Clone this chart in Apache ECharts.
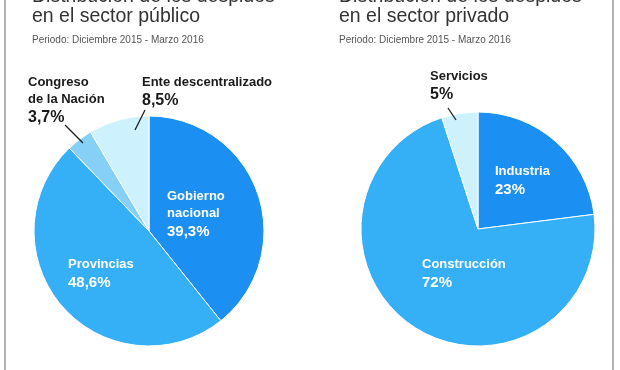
<!DOCTYPE html>
<html>
<head>
<meta charset="utf-8">
<script src="https://cdn.jsdelivr.net/npm/echarts@6/dist/echarts.min.js"></script>
<style>
html,body{margin:0;padding:0;background:#fff;}
#c{width:620px;height:370px;}
</style>
</head>
<body>
<div id="c"></div>
<script>
// ---- data ----
var titlePublic = 'Distribución de los despidos\nen el sector público';
var titlePrivate = 'Distribución de los despidos\nen el sector privado';
var periodText = 'Periodo: Diciembre 2015 - Marzo 2016';

var publicCategories = ['Gobierno\nnacional', 'Provincias', 'Congreso\nde la Nación', 'Ente descentralizado'];
var publicValues = [39.3, 48.6, 3.7, 8.5];

var privateCategories = ['Industria', 'Construcción', 'Servicios'];
var privateValues = [23, 72, 5];

// ---- styles ----
var FONT = 'Liberation Sans, Arial, sans-serif';
var publicColors = ['#1b90f2', '#35b0f7', '#86d0f7', '#cdf2fd'];
var privateColors = ['#1b90f2', '#35b0f7', '#cdf2fd'];
var publicInside = [true, true, false, false];
var privateInside = [true, true, false];

// label placement (layout only)
var labelPos = {
  0: [ {x:167, y:188}, {x:68, y:256}, {x:28, y:74}, {x:142, y:74} ],
  1: [ {x:495, y:163}, {x:422, y:256}, {x:430, y:68} ]
};
// leader lines (decoration)
var leaders = [
  [65, 125, 83, 143],
  [145, 110, 135, 130],
  [448, 108, 456, 120]
];

function fmt(decimals) {
  return function (p) {
    var parts = p.name.split('\n').map(function (s) { return '{n|' + s + '}'; });
    var v = decimals ? p.value.toFixed(decimals).replace('.', ',') : String(p.value);
    parts.push('{v|' + v + '%}');
    return parts.join('\n');
  };
}

function buildData(cats, vals, colors, inside) {
  return cats.map(function (c, i) {
    var white = inside[i];
    return {
      name: c,
      value: vals[i],
      itemStyle: { color: colors[i] },
      label: {
        position: 'inside',
        overflow: 'none',
        rich: {
          n: { fontFamily: FONT, fontWeight: 'bold', fontSize: 13, lineHeight: 17, color: white ? '#ffffff' : '#1a1a1a' },
          v: { fontFamily: FONT, fontWeight: 'bold', fontSize: white ? 15 : 16, lineHeight: 20, color: white ? '#ffffff' : '#1a1a1a' }
        }
      },
      labelLine: { show: false }
    };
  });
}

var chart = echarts.init(document.getElementById('c'), null, { renderer: 'canvas' });

function titleOpt(text, left) {
  return {
    text: text,
    subtext: periodText,
    left: left,
    top: -12.75,
    padding: 0,
    itemGap: 8.25,
    textStyle: { fontFamily: FONT, fontWeight: 'normal', fontSize: 19.5, lineHeight: 19.5, color: '#333333' },
    subtextStyle: { fontFamily: FONT, fontSize: 10, lineHeight: 11, color: '#555555' }
  };
}

var graphics = [
  { type: 'line', shape: { x1: 5, y1: 0, x2: 5, y2: 370 }, style: { stroke: '#9a9a9a', lineWidth: 1.5 } },
  { type: 'line', shape: { x1: 613, y1: 0, x2: 613, y2: 370 }, style: { stroke: '#9a9a9a', lineWidth: 1.5 } }
];
leaders.forEach(function (l) {
  graphics.push({ type: 'line', z: 100, shape: { x1: l[0], y1: l[1], x2: l[2], y2: l[3] }, style: { stroke: '#1a1a1a', lineWidth: 1.3 } });
});

var option = {
  animation: false,
  backgroundColor: '#ffffff',
  title: [titleOpt(titlePublic, 32), titleOpt(titlePrivate, 339)],
  graphic: graphics,
  series: [
    {
      type: 'pie',
      center: [149, 231],
      radius: 115,
      startAngle: 90,
      clockwise: true,
      silent: true,
      itemStyle: { borderColor: '#ffffff', borderWidth: 1 },
      label: { formatter: fmt(1), align: 'left' },
      labelLayout: function (p) {
        var q = labelPos[0][p.dataIndex];
        return { x: q.x, y: q.y, align: 'left', verticalAlign: 'top' };
      },
      data: buildData(publicCategories, publicValues, publicColors, publicInside)
    },
    {
      type: 'pie',
      center: [478, 229],
      radius: 117,
      startAngle: 90,
      clockwise: true,
      silent: true,
      itemStyle: { borderColor: '#ffffff', borderWidth: 1 },
      label: { formatter: fmt(0), align: 'left' },
      labelLayout: function (p) {
        var q = labelPos[1][p.dataIndex];
        return { x: q.x, y: q.y, align: 'left', verticalAlign: 'top' };
      },
      data: buildData(privateCategories, privateValues, privateColors, privateInside)
    }
  ]
};
chart.setOption(option);
</script>
</body>
</html>
